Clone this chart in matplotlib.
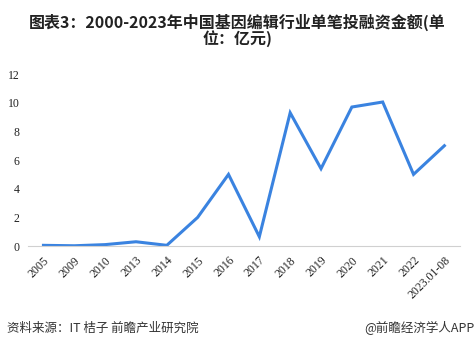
import matplotlib.pyplot as plt

plt.rcParams['font.family'] = ['Noto Sans CJK SC', 'DejaVu Sans']

# 年份与单笔投融资金额（亿元）
years = ["2005", "2009", "2010", "2013", "2014", "2015", "2016", "2017",
         "2018", "2019", "2020", "2021", "2022", "2023.01-08"]
amounts = [0.05, 0.02, 0.1, 0.3, 0.05, 2.0, 5.0, 0.65,
           9.3, 5.4, 9.7, 10.05, 5.0, 7.0]

fig = plt.figure(figsize=(4.75, 3.51), dpi=100)
ax = fig.add_axes([0.059, 0.299, 0.909, 0.49])

x = list(range(len(years)))
ax.plot(x, amounts, color="#3a83e0", linewidth=2.2, solid_joinstyle="miter")

ax.set_xlim(-0.5, len(years) - 0.5)
ax.set_ylim(0, 12)
ax.set_yticks(range(0, 13, 2))
ax.set_xticks(x)
ax.set_xticklabels(years, rotation=45, ha="right", rotation_mode="anchor",
                   fontfamily="Liberation Serif", fontsize=8.5)
for lab in ax.get_yticklabels():
    lab.set_fontfamily("Liberation Serif")
    lab.set_fontsize(8.5)

for s in ["top", "right", "left"]:
    ax.spines[s].set_visible(False)
ax.spines["bottom"].set_color("#d0d0d0")
ax.tick_params(axis="both", length=0, pad=6, colors="#222222")

fig.text(0.5, 0.96, "图表3：2000-2023年中国基因编辑行业单笔投融资金额(单\n位：亿元)",
         ha="center", va="top", fontsize=11.5, fontweight="bold",
         color="#222222", linespacing=0.95)

fig.text(0.015, 0.065, "资料来源：IT 桔子 前瞻产业研究院", ha="left", va="center",
         fontsize=9, color="#333333")
fig.text(0.998, 0.065, "@前瞻经济学人APP", ha="right", va="center",
         fontsize=9, color="#333333")

fig.savefig("out.png", dpi=100)
